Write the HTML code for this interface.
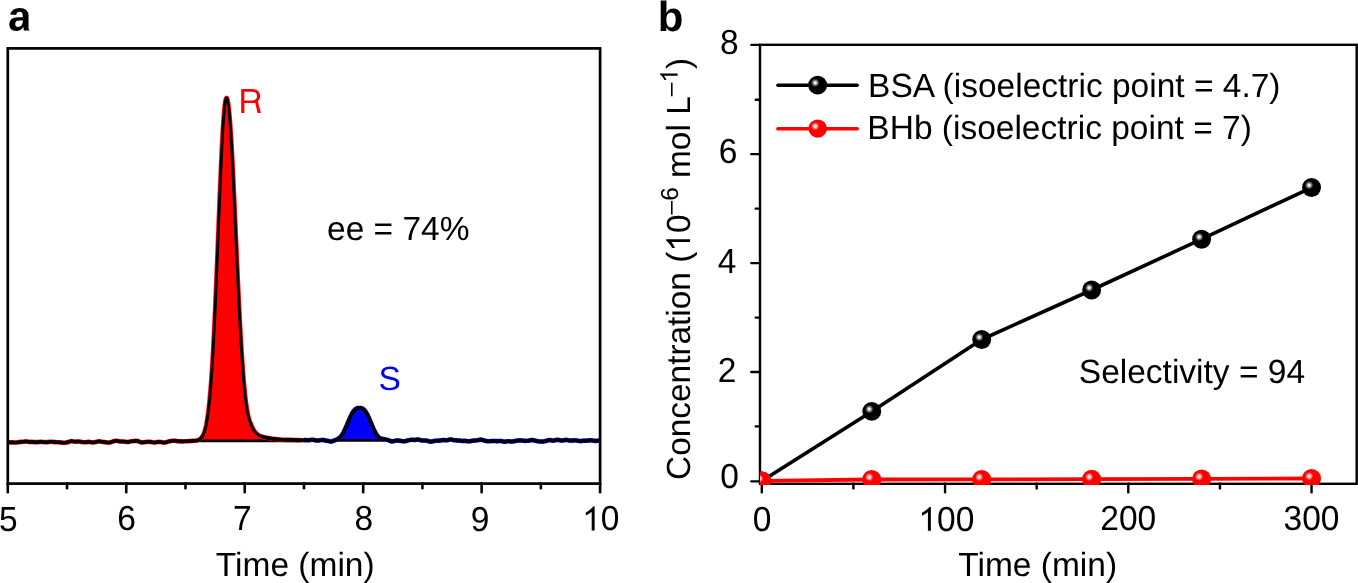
<!DOCTYPE html>
<html><head><meta charset="utf-8"><style>
html,body{margin:0;padding:0;background:#fff;width:1358px;height:583px;overflow:hidden;}
svg{display:block;will-change:transform;}
text{text-rendering:geometricPrecision;}
text{font-family:"Liberation Sans",sans-serif;}
</style></head><body>
<svg width="1358" height="583" viewBox="0 0 1358 583"><path d="M198.80,439.78 L199.30,439.51 L199.80,439.21 L200.30,438.84 L200.80,438.43 L201.30,437.94 L201.80,437.35 L202.30,436.64 L202.80,435.78 L203.30,434.79 L203.80,433.63 L204.30,432.29 L204.80,430.74 L205.30,428.96 L205.80,426.93 L206.30,424.61 L206.80,421.98 L207.30,419.02 L207.80,415.68 L208.30,411.95 L208.80,407.79 L209.30,403.18 L209.80,398.09 L210.30,392.49 L210.80,386.37 L211.30,379.70 L211.80,372.47 L212.30,364.68 L212.80,356.32 L213.30,347.39 L213.80,337.91 L214.30,327.88 L214.80,317.34 L215.30,306.33 L215.80,294.87 L216.30,283.04 L216.80,270.88 L217.30,258.46 L217.80,245.87 L218.30,233.19 L218.80,220.50 L219.30,207.91 L219.80,195.52 L220.30,183.42 L220.80,171.74 L221.30,160.58 L221.80,150.04 L222.30,140.23 L222.80,131.24 L223.30,123.17 L223.80,116.11 L224.30,110.12 L224.80,105.27 L225.30,101.62 L225.80,99.21 L226.30,98.06 L226.80,98.14 L227.30,99.26 L227.80,101.37 L228.30,104.47 L228.80,108.53 L229.30,113.51 L229.80,119.37 L230.30,126.06 L230.80,133.52 L231.30,141.69 L231.80,150.50 L232.30,159.89 L232.80,169.78 L233.30,180.09 L233.80,190.75 L234.30,201.69 L234.80,212.82 L235.30,224.08 L235.80,235.39 L236.30,246.68 L236.80,257.90 L237.30,268.98 L237.80,279.86 L238.30,290.50 L238.80,300.84 L239.30,310.86 L239.80,320.51 L240.30,329.77 L240.80,338.60 L241.30,347.00 L241.80,354.95 L242.30,362.42 L242.80,369.43 L243.30,375.96 L243.80,382.01 L244.30,387.58 L244.80,392.67 L245.30,397.29 L245.80,401.45 L246.30,405.15 L246.80,408.42 L247.30,411.28 L247.80,413.78 L248.30,415.96 L248.80,417.88 L249.30,419.59 L249.80,421.15 L250.30,422.58 L250.80,423.90 L251.30,425.15 L251.80,426.30 L252.30,427.38 L252.80,428.38 L253.30,429.30 L253.80,430.13 L254.30,430.90 L254.80,431.59 L255.30,432.21 L255.80,432.78 L256.30,433.28 L256.80,433.74 L257.30,434.15 L257.80,434.52 L258.30,434.86 L258.80,435.16 L259.30,435.44 L259.80,435.69 L260.30,435.92 L260.80,436.13 L261.30,436.33 L261.80,436.51 L262.30,436.67 L262.80,436.83 L263.30,436.98 L263.80,437.12 L264.30,437.25 L264.80,437.37 L265.30,437.49 L265.50,440.90 L198.60,440.90 Z" fill="#ff0000" stroke="none"/>
<path d="M333.80,440.30 L334.30,440.30 L334.80,440.27 L335.30,440.10 L335.80,439.88 L336.30,439.64 L336.80,439.45 L337.30,439.22 L337.80,438.91 L338.30,438.61 L338.80,438.27 L339.30,437.90 L339.80,437.46 L340.30,437.01 L340.80,436.52 L341.30,435.90 L341.80,435.22 L342.30,434.48 L342.80,433.68 L343.30,432.81 L343.80,431.88 L344.30,430.90 L344.80,429.87 L345.30,428.79 L345.80,427.67 L346.30,426.51 L346.80,425.33 L347.30,424.13 L347.80,422.92 L348.30,421.72 L348.80,420.52 L349.30,419.34 L349.80,418.19 L350.30,417.07 L350.80,416.00 L351.30,414.99 L351.80,414.03 L352.30,413.14 L352.80,412.31 L353.30,411.56 L353.80,410.89 L354.30,410.29 L354.80,409.77 L355.30,409.33 L355.80,408.96 L356.30,408.66 L356.80,408.43 L357.30,408.25 L357.80,408.14 L358.30,408.06 L358.80,408.03 L359.30,408.02 L359.80,408.02 L360.30,408.05 L360.80,408.10 L361.30,408.20 L361.80,408.35 L362.30,408.56 L362.80,408.83 L363.30,409.17 L363.80,409.58 L364.30,410.07 L364.80,410.63 L365.30,411.28 L365.80,412.00 L366.30,412.79 L366.80,413.65 L367.30,414.58 L367.80,415.58 L368.30,416.63 L368.80,417.72 L369.30,418.86 L369.80,420.03 L370.30,421.22 L370.80,422.43 L371.30,423.63 L371.80,424.84 L372.30,426.03 L372.80,427.19 L373.30,428.33 L373.80,429.43 L374.30,430.48 L374.80,431.48 L375.30,432.43 L375.80,433.32 L376.30,434.15 L376.80,434.91 L377.30,435.62 L377.80,436.26 L378.30,436.77 L378.80,437.20 L379.30,437.62 L379.80,437.93 L380.30,438.22 L380.80,438.47 L381.30,438.65 L381.80,438.81 L382.30,438.84 L382.80,438.95 L383.30,439.04 L383.80,439.13 L384.30,439.20 L384.40,440.30 L333.50,440.30 Z" fill="#0000ff" stroke="none"/>
<line x1="198.6" y1="440.9" x2="300" y2="440.9" stroke="#000" stroke-width="2.7"/>
<line x1="333.5" y1="440.3" x2="384.4" y2="440.3" stroke="#000" stroke-width="2.7"/>
<path d="M7.80,442.31 L8.30,442.28 L8.80,442.33 L9.30,442.36 L9.80,442.36 L10.30,442.39 L10.80,442.40 L11.30,442.35 L11.80,442.30 L12.30,442.30 L12.80,442.37 L13.30,442.40 L13.80,442.43 L14.30,442.48 L14.80,442.49 L15.30,442.55 L15.80,442.54 L16.30,442.56 L16.80,442.44 L17.30,442.40 L17.80,442.31 L18.30,442.17 L18.80,442.14 L19.30,442.08 L19.80,441.96 L20.30,441.91 L20.80,441.90 L21.30,441.86 L21.80,441.86 L22.30,441.84 L22.80,441.79 L23.30,441.72 L23.80,441.68 L24.30,441.61 L24.80,441.54 L25.30,441.40 L25.80,441.41 L26.30,441.48 L26.80,441.52 L27.30,441.58 L27.80,441.74 L28.30,441.74 L28.80,441.81 L29.30,441.93 L29.80,441.89 L30.30,441.89 L30.80,441.93 L31.30,441.90 L31.80,441.90 L32.30,441.93 L32.80,441.92 L33.30,441.95 L33.80,442.01 L34.30,442.10 L34.80,442.15 L35.30,442.17 L35.80,442.15 L36.30,442.14 L36.80,442.16 L37.30,442.13 L37.80,442.04 L38.30,441.95 L38.80,442.00 L39.30,441.98 L39.80,441.95 L40.30,441.81 L40.80,441.81 L41.30,441.82 L41.80,441.90 L42.30,441.95 L42.80,441.99 L43.30,442.06 L43.80,442.03 L44.30,442.12 L44.80,442.17 L45.30,442.17 L45.80,442.23 L46.30,442.29 L46.80,442.21 L47.30,442.14 L47.80,442.10 L48.30,442.04 L48.80,441.95 L49.30,441.84 L49.80,441.86 L50.30,441.85 L50.80,441.76 L51.30,441.68 L51.80,441.75 L52.30,441.81 L52.80,441.91 L53.30,442.00 L53.80,442.02 L54.30,442.09 L54.80,442.06 L55.30,442.09 L55.80,442.14 L56.30,442.20 L56.80,442.21 L57.30,442.23 L57.80,442.26 L58.30,442.29 L58.80,442.32 L59.30,442.34 L59.80,442.33 L60.30,442.38 L60.80,442.40 L61.30,442.42 L61.80,442.46 L62.30,442.55 L62.80,442.64 L63.30,442.74 L63.80,442.80 L64.30,442.83 L64.80,442.79 L65.30,442.66 L65.80,442.58 L66.30,442.50 L66.80,442.40 L67.30,442.29 L67.80,442.20 L68.30,442.04 L68.80,441.83 L69.30,441.68 L69.80,441.48 L70.30,441.37 L70.80,441.22 L71.30,441.08 L71.80,441.07 L72.30,441.23 L72.80,441.35 L73.30,441.43 L73.80,441.52 L74.30,441.62 L74.80,441.67 L75.30,441.67 L75.80,441.69 L76.30,441.66 L76.80,441.58 L77.30,441.54 L77.80,441.55 L78.30,441.56 L78.80,441.59 L79.30,441.57 L79.80,441.62 L80.30,441.71 L80.80,441.78 L81.30,441.90 L81.80,441.99 L82.30,442.08 L82.80,442.12 L83.30,442.25 L83.80,442.31 L84.30,442.29 L84.80,442.27 L85.30,442.33 L85.80,442.24 L86.30,442.19 L86.80,442.12 L87.30,442.02 L87.80,441.89 L88.30,441.85 L88.80,441.87 L89.30,441.96 L89.80,442.06 L90.30,442.14 L90.80,442.25 L91.30,442.33 L91.80,442.37 L92.30,442.39 L92.80,442.38 L93.30,442.39 L93.80,442.33 L94.30,442.27 L94.80,442.22 L95.30,442.10 L95.80,442.00 L96.30,441.82 L96.80,441.69 L97.30,441.60 L97.80,441.52 L98.30,441.43 L98.80,441.36 L99.30,441.29 L99.80,441.40 L100.30,441.48 L100.80,441.61 L101.30,441.68 L101.80,441.77 L102.30,441.79 L102.80,441.90 L103.30,442.01 L103.80,442.00 L104.30,442.06 L104.80,442.17 L105.30,442.19 L105.80,442.23 L106.30,442.31 L106.80,442.41 L107.30,442.47 L107.80,442.55 L108.30,442.59 L108.80,442.59 L109.30,442.54 L109.80,442.49 L110.30,442.39 L110.80,442.19 L111.30,442.01 L111.80,441.82 L112.30,441.64 L112.80,441.50 L113.30,441.36 L113.80,441.24 L114.30,441.05 L114.80,440.90 L115.30,440.82 L115.80,440.77 L116.30,440.77 L116.80,440.81 L117.30,440.87 L117.80,441.01 L118.30,441.15 L118.80,441.27 L119.30,441.36 L119.80,441.45 L120.30,441.42 L120.80,441.44 L121.30,441.49 L121.80,441.47 L122.30,441.51 L122.80,441.55 L123.30,441.53 L123.80,441.57 L124.30,441.62 L124.80,441.71 L125.30,441.82 L125.80,441.89 L126.30,441.92 L126.80,441.95 L127.30,441.95 L127.80,441.96 L128.30,441.92 L128.80,441.83 L129.30,441.69 L129.80,441.60 L130.30,441.50 L130.80,441.39 L131.30,441.32 L131.80,441.23 L132.30,441.17 L132.80,441.12 L133.30,441.02 L133.80,441.04 L134.30,440.95 L134.80,440.92 L135.30,440.88 L135.80,440.91 L136.30,440.82 L136.80,440.84 L137.30,440.94 L137.80,441.07 L138.30,441.30 L138.80,441.47 L139.30,441.68 L139.80,441.87 L140.30,442.06 L140.80,442.21 L141.30,442.30 L141.80,442.39 L142.30,442.38 L142.80,442.42 L143.30,442.34 L143.80,442.28 L144.30,442.27 L144.80,442.16 L145.30,442.06 L145.80,442.02 L146.30,441.94 L146.80,441.84 L147.30,441.79 L147.80,441.78 L148.30,441.78 L148.80,441.73 L149.30,441.79 L149.80,441.87 L150.30,441.89 L150.80,441.94 L151.30,441.98 L151.80,442.12 L152.30,442.19 L152.80,442.32 L153.30,442.39 L153.80,442.43 L154.30,442.48 L154.80,442.52 L155.30,442.45 L155.80,442.32 L156.30,442.23 L156.80,442.10 L157.30,442.00 L157.80,441.96 L158.30,441.93 L158.80,441.86 L159.30,441.93 L159.80,441.93 L160.30,441.99 L160.80,442.01 L161.30,442.09 L161.80,442.12 L162.30,442.31 L162.80,442.49 L163.30,442.54 L163.80,442.56 L164.30,442.53 L164.80,442.56 L165.30,442.48 L165.80,442.37 L166.30,442.22 L166.80,442.06 L167.30,441.87 L167.80,441.73 L168.30,441.55 L168.80,441.43 L169.30,441.34 L169.80,441.25 L170.30,441.14 L170.80,441.00 L171.30,440.91 L171.80,440.80 L172.30,440.78 L172.80,440.74 L173.30,440.70 L173.80,440.68 L174.30,440.68 L174.80,440.70 L175.30,440.76 L175.80,440.85 L176.30,440.95 L176.80,441.04 L177.30,441.16 L177.80,441.20 L178.30,441.24 L178.80,441.34 L179.30,441.32 L179.80,441.33 L180.30,441.35 L180.80,441.37 L181.30,441.39 L181.80,441.40 L182.30,441.41 L182.80,441.41 L183.30,441.41 L183.80,441.37 L184.30,441.34 L184.80,441.32 L185.30,441.29 L185.80,441.27 L186.30,441.25 L186.80,441.22 L187.30,441.20 L187.80,441.18 L188.30,441.16 L188.80,441.13 L189.30,441.10 L189.80,441.05 L190.30,441.01 L190.80,440.98 L191.30,440.93 L191.80,440.90 L192.30,440.87 L192.80,440.83 L193.30,440.82 L193.80,440.81 L194.30,440.78 L194.80,440.75 L195.30,440.71 L195.80,440.67 L196.30,440.61 L196.80,440.52 L197.30,440.38 L197.80,440.22 L198.30,440.02 L198.80,439.78 L199.30,439.51 L199.80,439.21 L200.30,438.84 L200.80,438.43 L201.30,437.94 L201.80,437.35 L202.30,436.64 L202.80,435.78 L203.30,434.79 L203.80,433.63 L204.30,432.29 L204.80,430.74 L205.30,428.96 L205.80,426.93 L206.30,424.61 L206.80,421.98 L207.30,419.02 L207.80,415.68 L208.30,411.95 L208.80,407.79 L209.30,403.18 L209.80,398.09 L210.30,392.49 L210.80,386.37 L211.30,379.70 L211.80,372.47 L212.30,364.68 L212.80,356.32 L213.30,347.39 L213.80,337.91 L214.30,327.88 L214.80,317.34 L215.30,306.33 L215.80,294.87 L216.30,283.04 L216.80,270.88 L217.30,258.46 L217.80,245.87 L218.30,233.19 L218.80,220.50 L219.30,207.91 L219.80,195.52 L220.30,183.42 L220.80,171.74 L221.30,160.58 L221.80,150.04 L222.30,140.23 L222.80,131.24 L223.30,123.17 L223.80,116.11 L224.30,110.12 L224.80,105.27 L225.30,101.62 L225.80,99.21 L226.30,98.06 L226.80,98.14 L227.30,99.26 L227.80,101.37 L228.30,104.47 L228.80,108.53 L229.30,113.51 L229.80,119.37 L230.30,126.06 L230.80,133.52 L231.30,141.69 L231.80,150.50 L232.30,159.89 L232.80,169.78 L233.30,180.09 L233.80,190.75 L234.30,201.69 L234.80,212.82 L235.30,224.08 L235.80,235.39 L236.30,246.68 L236.80,257.90 L237.30,268.98 L237.80,279.86 L238.30,290.50 L238.80,300.84 L239.30,310.86 L239.80,320.51 L240.30,329.77 L240.80,338.60 L241.30,347.00 L241.80,354.95 L242.30,362.42 L242.80,369.43 L243.30,375.96 L243.80,382.01 L244.30,387.58 L244.80,392.67 L245.30,397.29 L245.80,401.45 L246.30,405.15 L246.80,408.42 L247.30,411.28 L247.80,413.78 L248.30,415.96 L248.80,417.88 L249.30,419.59 L249.80,421.15 L250.30,422.58 L250.80,423.90 L251.30,425.15 L251.80,426.30 L252.30,427.38 L252.80,428.38 L253.30,429.30 L253.80,430.13 L254.30,430.90 L254.80,431.59 L255.30,432.21 L255.80,432.78 L256.30,433.28 L256.80,433.74 L257.30,434.15 L257.80,434.52 L258.30,434.86 L258.80,435.16 L259.30,435.44 L259.80,435.69 L260.30,435.92 L260.80,436.13 L261.30,436.33 L261.80,436.51 L262.30,436.67 L262.80,436.83 L263.30,436.98 L263.80,437.12 L264.30,437.25 L264.80,437.37 L265.30,437.49 L265.80,437.60 L266.30,437.71 L266.80,437.82 L267.30,437.92 L267.80,438.02 L268.30,438.11 L268.80,438.20 L269.30,438.29 L269.80,438.37 L270.30,438.45 L270.80,438.53 L271.30,438.59 L271.80,438.66 L272.30,438.72 L272.80,438.77 L273.30,438.83 L273.80,438.89 L274.30,438.94 L274.80,439.00 L275.30,439.04 L275.80,439.10 L276.30,439.15 L276.80,439.20 L277.30,439.25 L277.80,439.30 L278.30,439.36 L278.80,439.42 L279.30,439.48 L279.80,439.54 L280.30,439.61 L280.80,439.66 L281.30,439.71 L281.80,439.75 L282.30,439.79 L282.80,439.80 L283.30,439.84 L283.80,439.87 L284.30,439.86 L284.80,439.87 L285.30,439.88 L285.80,439.89 L286.30,439.90 L286.80,439.90 L287.30,439.89 L287.80,439.89 L288.30,439.89 L288.80,439.87 L289.30,439.86 L289.80,439.86 L290.30,439.85 L290.80,439.87 L291.30,439.89 L291.80,439.92 L292.30,439.95 L292.80,439.98 L293.30,440.01 L293.80,440.04 L294.30,440.05 L294.80,440.06 L295.30,440.07 L295.80,440.08 L296.30,440.09 L296.80,440.09 L297.30,440.10 L297.80,440.09 L298.30,440.14 L298.80,440.16 L299.30,440.19 L299.80,440.22 L300.30,440.22 L300.80,440.24 L301.30,440.25 L301.80,440.23 L302.30,440.22 L302.80,440.22 L303.30,440.17" fill="none" stroke="#ff0000" stroke-width="4.6" stroke-linejoin="round"/>
<path d="M303.80,440.14 L304.30,440.11 L304.80,440.08 L305.30,440.07 L305.80,440.10 L306.30,440.11 L306.80,440.17 L307.30,440.19 L307.80,440.23 L308.30,440.21 L308.80,440.18 L309.30,440.17 L309.80,440.10 L310.30,440.00 L310.80,439.86 L311.30,439.75 L311.80,439.69 L312.30,439.70 L312.80,439.74 L313.30,439.82 L313.80,439.92 L314.30,440.08 L314.80,440.19 L315.30,440.27 L315.80,440.39 L316.30,440.46 L316.80,440.49 L317.30,440.49 L317.80,440.49 L318.30,440.50 L318.80,440.48 L319.30,440.39 L319.80,440.33 L320.30,440.25 L320.80,440.11 L321.30,440.05 L321.80,439.97 L322.30,439.92 L322.80,439.97 L323.30,440.08 L323.80,440.14 L324.30,440.25 L324.80,440.32 L325.30,440.49 L325.80,440.54 L326.30,440.64 L326.80,440.67 L327.30,440.76 L327.80,440.93 L328.30,440.94 L328.80,441.07 L329.30,441.25 L329.80,441.39 L330.30,441.48 L330.80,441.60 L331.30,441.56 L331.80,441.37 L332.30,441.22 L332.80,440.95 L333.30,440.78 L333.80,440.56 L334.30,440.39 L334.80,440.27 L335.30,440.10 L335.80,439.88 L336.30,439.64 L336.80,439.45 L337.30,439.22 L337.80,438.91 L338.30,438.61 L338.80,438.27 L339.30,437.90 L339.80,437.46 L340.30,437.01 L340.80,436.52 L341.30,435.90 L341.80,435.22 L342.30,434.48 L342.80,433.68 L343.30,432.81 L343.80,431.88 L344.30,430.90 L344.80,429.87 L345.30,428.79 L345.80,427.67 L346.30,426.51 L346.80,425.33 L347.30,424.13 L347.80,422.92 L348.30,421.72 L348.80,420.52 L349.30,419.34 L349.80,418.19 L350.30,417.07 L350.80,416.00 L351.30,414.99 L351.80,414.03 L352.30,413.14 L352.80,412.31 L353.30,411.56 L353.80,410.89 L354.30,410.29 L354.80,409.77 L355.30,409.33 L355.80,408.96 L356.30,408.66 L356.80,408.43 L357.30,408.25 L357.80,408.14 L358.30,408.06 L358.80,408.03 L359.30,408.02 L359.80,408.02 L360.30,408.05 L360.80,408.10 L361.30,408.20 L361.80,408.35 L362.30,408.56 L362.80,408.83 L363.30,409.17 L363.80,409.58 L364.30,410.07 L364.80,410.63 L365.30,411.28 L365.80,412.00 L366.30,412.79 L366.80,413.65 L367.30,414.58 L367.80,415.58 L368.30,416.63 L368.80,417.72 L369.30,418.86 L369.80,420.03 L370.30,421.22 L370.80,422.43 L371.30,423.63 L371.80,424.84 L372.30,426.03 L372.80,427.19 L373.30,428.33 L373.80,429.43 L374.30,430.48 L374.80,431.48 L375.30,432.43 L375.80,433.32 L376.30,434.15 L376.80,434.91 L377.30,435.62 L377.80,436.26 L378.30,436.77 L378.80,437.20 L379.30,437.62 L379.80,437.93 L380.30,438.22 L380.80,438.47 L381.30,438.65 L381.80,438.81 L382.30,438.84 L382.80,438.95 L383.30,439.04 L383.80,439.13 L384.30,439.20 L384.80,439.34 L385.30,439.44 L385.80,439.59 L386.30,439.71 L386.80,439.76 L387.30,439.90 L387.80,440.05 L388.30,440.22 L388.80,440.34 L389.30,440.51 L389.80,440.72 L390.30,440.91 L390.80,441.13 L391.30,441.35 L391.80,441.39 L392.30,441.33 L392.80,441.30 L393.30,441.25 L393.80,441.14 L394.30,441.01 L394.80,440.84 L395.30,440.69 L395.80,440.64 L396.30,440.55 L396.80,440.45 L397.30,440.40 L397.80,440.51 L398.30,440.60 L398.80,440.61 L399.30,440.63 L399.80,440.70 L400.30,440.74 L400.80,440.88 L401.30,440.97 L401.80,441.03 L402.30,441.17 L402.80,441.23 L403.30,441.30 L403.80,441.33 L404.30,441.31 L404.80,441.29 L405.30,441.20 L405.80,441.04 L406.30,440.85 L406.80,440.69 L407.30,440.54 L407.80,440.43 L408.30,440.32 L408.80,440.24 L409.30,440.14 L409.80,440.02 L410.30,439.92 L410.80,439.79 L411.30,439.75 L411.80,439.77 L412.30,439.80 L412.80,439.82 L413.30,439.85 L413.80,439.90 L414.30,439.91 L414.80,439.91 L415.30,439.87 L415.80,439.79 L416.30,439.75 L416.80,439.63 L417.30,439.56 L417.80,439.50 L418.30,439.50 L418.80,439.64 L419.30,439.83 L419.80,439.95 L420.30,440.10 L420.80,440.26 L421.30,440.37 L421.80,440.48 L422.30,440.47 L422.80,440.47 L423.30,440.50 L423.80,440.57 L424.30,440.58 L424.80,440.56 L425.30,440.56 L425.80,440.57 L426.30,440.59 L426.80,440.72 L427.30,440.80 L427.80,440.92 L428.30,441.14 L428.80,441.32 L429.30,441.46 L429.80,441.52 L430.30,441.58 L430.80,441.64 L431.30,441.60 L431.80,441.55 L432.30,441.41 L432.80,441.29 L433.30,441.13 L433.80,441.02 L434.30,440.96 L434.80,440.82 L435.30,440.76 L435.80,440.73 L436.30,440.67 L436.80,440.64 L437.30,440.65 L437.80,440.71 L438.30,440.71 L438.80,440.69 L439.30,440.59 L439.80,440.61 L440.30,440.54 L440.80,440.46 L441.30,440.32 L441.80,440.24 L442.30,440.12 L442.80,440.08 L443.30,440.08 L443.80,440.10 L444.30,440.15 L444.80,440.17 L445.30,440.29 L445.80,440.32 L446.30,440.28 L446.80,440.28 L447.30,440.21 L447.80,440.09 L448.30,439.95 L448.80,439.82 L449.30,439.63 L449.80,439.51 L450.30,439.50 L450.80,439.52 L451.30,439.57 L451.80,439.69 L452.30,439.83 L452.80,439.98 L453.30,440.15 L453.80,440.25 L454.30,440.24 L454.80,440.30 L455.30,440.30 L455.80,440.35 L456.30,440.34 L456.80,440.37 L457.30,440.48 L457.80,440.47 L458.30,440.48 L458.80,440.50 L459.30,440.50 L459.80,440.54 L460.30,440.68 L460.80,440.79 L461.30,440.83 L461.80,440.87 L462.30,440.95 L462.80,440.94 L463.30,440.91 L463.80,440.88 L464.30,440.88 L464.80,440.90 L465.30,440.91 L465.80,440.91 L466.30,440.94 L466.80,441.06 L467.30,441.18 L467.80,441.24 L468.30,441.31 L468.80,441.35 L469.30,441.35 L469.80,441.29 L470.30,441.17 L470.80,441.06 L471.30,440.90 L471.80,440.84 L472.30,440.77 L472.80,440.63 L473.30,440.61 L473.80,440.59 L474.30,440.46 L474.80,440.50 L475.30,440.49 L475.80,440.52 L476.30,440.40 L476.80,440.35 L477.30,440.26 L477.80,440.16 L478.30,440.04 L478.80,439.97 L479.30,439.81 L479.80,439.69 L480.30,439.62 L480.80,439.62 L481.30,439.67 L481.80,439.80 L482.30,439.94 L482.80,440.08 L483.30,440.20 L483.80,440.32 L484.30,440.49 L484.80,440.64 L485.30,440.75 L485.80,440.84 L486.30,441.00 L486.80,441.06 L487.30,441.16 L487.80,441.26 L488.30,441.28 L488.80,441.32 L489.30,441.25 L489.80,441.26 L490.30,441.22 L490.80,441.09 L491.30,441.06 L491.80,440.97 L492.30,440.98 L492.80,440.93 L493.30,440.92 L493.80,440.94 L494.30,440.95 L494.80,441.00 L495.30,441.02 L495.80,441.09 L496.30,441.13 L496.80,441.16 L497.30,441.07 L497.80,441.11 L498.30,441.10 L498.80,441.00 L499.30,440.97 L499.80,440.96 L500.30,440.99 L500.80,440.95 L501.30,441.05 L501.80,441.12 L502.30,441.32 L502.80,441.43 L503.30,441.58 L503.80,441.65 L504.30,441.64 L504.80,441.66 L505.30,441.62 L505.80,441.57 L506.30,441.49 L506.80,441.37 L507.30,441.25 L507.80,441.21 L508.30,441.21 L508.80,441.24 L509.30,441.33 L509.80,441.42 L510.30,441.47 L510.80,441.53 L511.30,441.54 L511.80,441.54 L512.30,441.53 L512.80,441.51 L513.30,441.39 L513.80,441.24 L514.30,441.20 L514.80,441.10 L515.30,441.05 L515.80,440.88 L516.30,440.78 L516.80,440.70 L517.30,440.56 L517.80,440.46 L518.30,440.43 L518.80,440.43 L519.30,440.46 L519.80,440.41 L520.30,440.36 L520.80,440.41 L521.30,440.49 L521.80,440.55 L522.30,440.56 L522.80,440.64 L523.30,440.72 L523.80,440.78 L524.30,440.79 L524.80,440.83 L525.30,440.87 L525.80,440.85 L526.30,440.77 L526.80,440.77 L527.30,440.76 L527.80,440.72 L528.30,440.69 L528.80,440.59 L529.30,440.49 L529.80,440.37 L530.30,440.27 L530.80,440.22 L531.30,440.10 L531.80,440.10 L532.30,440.12 L532.80,440.14 L533.30,440.20 L533.80,440.34 L534.30,440.43 L534.80,440.54 L535.30,440.63 L535.80,440.77 L536.30,440.95 L536.80,441.08 L537.30,441.19 L537.80,441.27 L538.30,441.36 L538.80,441.38 L539.30,441.49 L539.80,441.53 L540.30,441.54 L540.80,441.55 L541.30,441.54 L541.80,441.57 L542.30,441.60 L542.80,441.51 L543.30,441.50 L543.80,441.47 L544.30,441.37 L544.80,441.23 L545.30,441.11 L545.80,440.98 L546.30,440.88 L546.80,440.73 L547.30,440.52 L547.80,440.40 L548.30,440.22 L548.80,440.18 L549.30,440.09 L549.80,440.08 L550.30,440.11 L550.80,440.18 L551.30,440.34 L551.80,440.48 L552.30,440.59 L552.80,440.65 L553.30,440.59 L553.80,440.54 L554.30,440.44 L554.80,440.30 L555.30,440.20 L555.80,440.05 L556.30,439.93 L556.80,439.83 L557.30,439.73 L557.80,439.80 L558.30,439.95 L558.80,440.08 L559.30,440.17 L559.80,440.20 L560.30,440.32 L560.80,440.45 L561.30,440.50 L561.80,440.53 L562.30,440.54 L562.80,440.50 L563.30,440.37 L563.80,440.29 L564.30,440.20 L564.80,440.03 L565.30,439.95 L565.80,439.88 L566.30,439.91 L566.80,440.01 L567.30,440.07 L567.80,440.11 L568.30,440.28 L568.80,440.40 L569.30,440.53 L569.80,440.51 L570.30,440.56 L570.80,440.62 L571.30,440.65 L571.80,440.57 L572.30,440.51 L572.80,440.42 L573.30,440.40 L573.80,440.38 L574.30,440.35 L574.80,440.29 L575.30,440.33 L575.80,440.35 L576.30,440.43 L576.80,440.51 L577.30,440.64 L577.80,440.76 L578.30,440.81 L578.80,440.88 L579.30,441.00 L579.80,441.01 L580.30,441.04 L580.80,441.08 L581.30,441.09 L581.80,441.05 L582.30,440.91 L582.80,440.76 L583.30,440.66 L583.80,440.60 L584.30,440.65 L584.80,440.60 L585.30,440.67 L585.80,440.73 L586.30,440.69 L586.80,440.67 L587.30,440.65 L587.80,440.59 L588.30,440.52 L588.80,440.47 L589.30,440.38 L589.80,440.35 L590.30,440.30 L590.80,440.29 L591.30,440.34 L591.80,440.36 L592.30,440.44 L592.80,440.58 L593.30,440.65 L593.80,440.71 L594.30,440.80 L594.80,440.83 L595.30,440.90 L595.80,440.86 L596.30,440.88 L596.80,440.84 L597.30,440.76 L597.80,440.77 L598.30,440.66 L598.80,440.64 L599.30,440.56 L599.80,440.52" fill="none" stroke="#0000ff" stroke-width="4.6" stroke-linejoin="round"/>
<path d="M7.80,442.31 L8.30,442.28 L8.80,442.33 L9.30,442.36 L9.80,442.36 L10.30,442.39 L10.80,442.40 L11.30,442.35 L11.80,442.30 L12.30,442.30 L12.80,442.37 L13.30,442.40 L13.80,442.43 L14.30,442.48 L14.80,442.49 L15.30,442.55 L15.80,442.54 L16.30,442.56 L16.80,442.44 L17.30,442.40 L17.80,442.31 L18.30,442.17 L18.80,442.14 L19.30,442.08 L19.80,441.96 L20.30,441.91 L20.80,441.90 L21.30,441.86 L21.80,441.86 L22.30,441.84 L22.80,441.79 L23.30,441.72 L23.80,441.68 L24.30,441.61 L24.80,441.54 L25.30,441.40 L25.80,441.41 L26.30,441.48 L26.80,441.52 L27.30,441.58 L27.80,441.74 L28.30,441.74 L28.80,441.81 L29.30,441.93 L29.80,441.89 L30.30,441.89 L30.80,441.93 L31.30,441.90 L31.80,441.90 L32.30,441.93 L32.80,441.92 L33.30,441.95 L33.80,442.01 L34.30,442.10 L34.80,442.15 L35.30,442.17 L35.80,442.15 L36.30,442.14 L36.80,442.16 L37.30,442.13 L37.80,442.04 L38.30,441.95 L38.80,442.00 L39.30,441.98 L39.80,441.95 L40.30,441.81 L40.80,441.81 L41.30,441.82 L41.80,441.90 L42.30,441.95 L42.80,441.99 L43.30,442.06 L43.80,442.03 L44.30,442.12 L44.80,442.17 L45.30,442.17 L45.80,442.23 L46.30,442.29 L46.80,442.21 L47.30,442.14 L47.80,442.10 L48.30,442.04 L48.80,441.95 L49.30,441.84 L49.80,441.86 L50.30,441.85 L50.80,441.76 L51.30,441.68 L51.80,441.75 L52.30,441.81 L52.80,441.91 L53.30,442.00 L53.80,442.02 L54.30,442.09 L54.80,442.06 L55.30,442.09 L55.80,442.14 L56.30,442.20 L56.80,442.21 L57.30,442.23 L57.80,442.26 L58.30,442.29 L58.80,442.32 L59.30,442.34 L59.80,442.33 L60.30,442.38 L60.80,442.40 L61.30,442.42 L61.80,442.46 L62.30,442.55 L62.80,442.64 L63.30,442.74 L63.80,442.80 L64.30,442.83 L64.80,442.79 L65.30,442.66 L65.80,442.58 L66.30,442.50 L66.80,442.40 L67.30,442.29 L67.80,442.20 L68.30,442.04 L68.80,441.83 L69.30,441.68 L69.80,441.48 L70.30,441.37 L70.80,441.22 L71.30,441.08 L71.80,441.07 L72.30,441.23 L72.80,441.35 L73.30,441.43 L73.80,441.52 L74.30,441.62 L74.80,441.67 L75.30,441.67 L75.80,441.69 L76.30,441.66 L76.80,441.58 L77.30,441.54 L77.80,441.55 L78.30,441.56 L78.80,441.59 L79.30,441.57 L79.80,441.62 L80.30,441.71 L80.80,441.78 L81.30,441.90 L81.80,441.99 L82.30,442.08 L82.80,442.12 L83.30,442.25 L83.80,442.31 L84.30,442.29 L84.80,442.27 L85.30,442.33 L85.80,442.24 L86.30,442.19 L86.80,442.12 L87.30,442.02 L87.80,441.89 L88.30,441.85 L88.80,441.87 L89.30,441.96 L89.80,442.06 L90.30,442.14 L90.80,442.25 L91.30,442.33 L91.80,442.37 L92.30,442.39 L92.80,442.38 L93.30,442.39 L93.80,442.33 L94.30,442.27 L94.80,442.22 L95.30,442.10 L95.80,442.00 L96.30,441.82 L96.80,441.69 L97.30,441.60 L97.80,441.52 L98.30,441.43 L98.80,441.36 L99.30,441.29 L99.80,441.40 L100.30,441.48 L100.80,441.61 L101.30,441.68 L101.80,441.77 L102.30,441.79 L102.80,441.90 L103.30,442.01 L103.80,442.00 L104.30,442.06 L104.80,442.17 L105.30,442.19 L105.80,442.23 L106.30,442.31 L106.80,442.41 L107.30,442.47 L107.80,442.55 L108.30,442.59 L108.80,442.59 L109.30,442.54 L109.80,442.49 L110.30,442.39 L110.80,442.19 L111.30,442.01 L111.80,441.82 L112.30,441.64 L112.80,441.50 L113.30,441.36 L113.80,441.24 L114.30,441.05 L114.80,440.90 L115.30,440.82 L115.80,440.77 L116.30,440.77 L116.80,440.81 L117.30,440.87 L117.80,441.01 L118.30,441.15 L118.80,441.27 L119.30,441.36 L119.80,441.45 L120.30,441.42 L120.80,441.44 L121.30,441.49 L121.80,441.47 L122.30,441.51 L122.80,441.55 L123.30,441.53 L123.80,441.57 L124.30,441.62 L124.80,441.71 L125.30,441.82 L125.80,441.89 L126.30,441.92 L126.80,441.95 L127.30,441.95 L127.80,441.96 L128.30,441.92 L128.80,441.83 L129.30,441.69 L129.80,441.60 L130.30,441.50 L130.80,441.39 L131.30,441.32 L131.80,441.23 L132.30,441.17 L132.80,441.12 L133.30,441.02 L133.80,441.04 L134.30,440.95 L134.80,440.92 L135.30,440.88 L135.80,440.91 L136.30,440.82 L136.80,440.84 L137.30,440.94 L137.80,441.07 L138.30,441.30 L138.80,441.47 L139.30,441.68 L139.80,441.87 L140.30,442.06 L140.80,442.21 L141.30,442.30 L141.80,442.39 L142.30,442.38 L142.80,442.42 L143.30,442.34 L143.80,442.28 L144.30,442.27 L144.80,442.16 L145.30,442.06 L145.80,442.02 L146.30,441.94 L146.80,441.84 L147.30,441.79 L147.80,441.78 L148.30,441.78 L148.80,441.73 L149.30,441.79 L149.80,441.87 L150.30,441.89 L150.80,441.94 L151.30,441.98 L151.80,442.12 L152.30,442.19 L152.80,442.32 L153.30,442.39 L153.80,442.43 L154.30,442.48 L154.80,442.52 L155.30,442.45 L155.80,442.32 L156.30,442.23 L156.80,442.10 L157.30,442.00 L157.80,441.96 L158.30,441.93 L158.80,441.86 L159.30,441.93 L159.80,441.93 L160.30,441.99 L160.80,442.01 L161.30,442.09 L161.80,442.12 L162.30,442.31 L162.80,442.49 L163.30,442.54 L163.80,442.56 L164.30,442.53 L164.80,442.56 L165.30,442.48 L165.80,442.37 L166.30,442.22 L166.80,442.06 L167.30,441.87 L167.80,441.73 L168.30,441.55 L168.80,441.43 L169.30,441.34 L169.80,441.25 L170.30,441.14 L170.80,441.00 L171.30,440.91 L171.80,440.80 L172.30,440.78 L172.80,440.74 L173.30,440.70 L173.80,440.68 L174.30,440.68 L174.80,440.70 L175.30,440.76 L175.80,440.85 L176.30,440.95 L176.80,441.04 L177.30,441.16 L177.80,441.20 L178.30,441.24 L178.80,441.34 L179.30,441.32 L179.80,441.33 L180.30,441.35 L180.80,441.37 L181.30,441.39 L181.80,441.40 L182.30,441.41 L182.80,441.41 L183.30,441.41 L183.80,441.37 L184.30,441.34 L184.80,441.32 L185.30,441.29 L185.80,441.27 L186.30,441.25 L186.80,441.22 L187.30,441.20 L187.80,441.18 L188.30,441.16 L188.80,441.13 L189.30,441.10 L189.80,441.05 L190.30,441.01 L190.80,440.98 L191.30,440.93 L191.80,440.90 L192.30,440.87 L192.80,440.83 L193.30,440.82 L193.80,440.81 L194.30,440.78 L194.80,440.75 L195.30,440.71 L195.80,440.67 L196.30,440.61 L196.80,440.52 L197.30,440.38 L197.80,440.22 L198.30,440.02 L198.80,439.78 L199.30,439.51 L199.80,439.21 L200.30,438.84 L200.80,438.43 L201.30,437.94 L201.80,437.35 L202.30,436.64 L202.80,435.78 L203.30,434.79 L203.80,433.63 L204.30,432.29 L204.80,430.74 L205.30,428.96 L205.80,426.93 L206.30,424.61 L206.80,421.98 L207.30,419.02 L207.80,415.68 L208.30,411.95 L208.80,407.79 L209.30,403.18 L209.80,398.09 L210.30,392.49 L210.80,386.37 L211.30,379.70 L211.80,372.47 L212.30,364.68 L212.80,356.32 L213.30,347.39 L213.80,337.91 L214.30,327.88 L214.80,317.34 L215.30,306.33 L215.80,294.87 L216.30,283.04 L216.80,270.88 L217.30,258.46 L217.80,245.87 L218.30,233.19 L218.80,220.50 L219.30,207.91 L219.80,195.52 L220.30,183.42 L220.80,171.74 L221.30,160.58 L221.80,150.04 L222.30,140.23 L222.80,131.24 L223.30,123.17 L223.80,116.11 L224.30,110.12 L224.80,105.27 L225.30,101.62 L225.80,99.21 L226.30,98.06 L226.80,98.14 L227.30,99.26 L227.80,101.37 L228.30,104.47 L228.80,108.53 L229.30,113.51 L229.80,119.37 L230.30,126.06 L230.80,133.52 L231.30,141.69 L231.80,150.50 L232.30,159.89 L232.80,169.78 L233.30,180.09 L233.80,190.75 L234.30,201.69 L234.80,212.82 L235.30,224.08 L235.80,235.39 L236.30,246.68 L236.80,257.90 L237.30,268.98 L237.80,279.86 L238.30,290.50 L238.80,300.84 L239.30,310.86 L239.80,320.51 L240.30,329.77 L240.80,338.60 L241.30,347.00 L241.80,354.95 L242.30,362.42 L242.80,369.43 L243.30,375.96 L243.80,382.01 L244.30,387.58 L244.80,392.67 L245.30,397.29 L245.80,401.45 L246.30,405.15 L246.80,408.42 L247.30,411.28 L247.80,413.78 L248.30,415.96 L248.80,417.88 L249.30,419.59 L249.80,421.15 L250.30,422.58 L250.80,423.90 L251.30,425.15 L251.80,426.30 L252.30,427.38 L252.80,428.38 L253.30,429.30 L253.80,430.13 L254.30,430.90 L254.80,431.59 L255.30,432.21 L255.80,432.78 L256.30,433.28 L256.80,433.74 L257.30,434.15 L257.80,434.52 L258.30,434.86 L258.80,435.16 L259.30,435.44 L259.80,435.69 L260.30,435.92 L260.80,436.13 L261.30,436.33 L261.80,436.51 L262.30,436.67 L262.80,436.83 L263.30,436.98 L263.80,437.12 L264.30,437.25 L264.80,437.37 L265.30,437.49 L265.80,437.60 L266.30,437.71 L266.80,437.82 L267.30,437.92 L267.80,438.02 L268.30,438.11 L268.80,438.20 L269.30,438.29 L269.80,438.37 L270.30,438.45 L270.80,438.53 L271.30,438.59 L271.80,438.66 L272.30,438.72 L272.80,438.77 L273.30,438.83 L273.80,438.89 L274.30,438.94 L274.80,439.00 L275.30,439.04 L275.80,439.10 L276.30,439.15 L276.80,439.20 L277.30,439.25 L277.80,439.30 L278.30,439.36 L278.80,439.42 L279.30,439.48 L279.80,439.54 L280.30,439.61 L280.80,439.66 L281.30,439.71 L281.80,439.75 L282.30,439.79 L282.80,439.80 L283.30,439.84 L283.80,439.87 L284.30,439.86 L284.80,439.87 L285.30,439.88 L285.80,439.89 L286.30,439.90 L286.80,439.90 L287.30,439.89 L287.80,439.89 L288.30,439.89 L288.80,439.87 L289.30,439.86 L289.80,439.86 L290.30,439.85 L290.80,439.87 L291.30,439.89 L291.80,439.92 L292.30,439.95 L292.80,439.98 L293.30,440.01 L293.80,440.04 L294.30,440.05 L294.80,440.06 L295.30,440.07 L295.80,440.08 L296.30,440.09 L296.80,440.09 L297.30,440.10 L297.80,440.09 L298.30,440.14 L298.80,440.16 L299.30,440.19 L299.80,440.22 L300.30,440.22 L300.80,440.24 L301.30,440.25 L301.80,440.23 L302.30,440.22 L302.80,440.22 L303.30,440.17 L303.80,440.14 L304.30,440.11 L304.80,440.08 L305.30,440.07 L305.80,440.10 L306.30,440.11 L306.80,440.17 L307.30,440.19 L307.80,440.23 L308.30,440.21 L308.80,440.18 L309.30,440.17 L309.80,440.10 L310.30,440.00 L310.80,439.86 L311.30,439.75 L311.80,439.69 L312.30,439.70 L312.80,439.74 L313.30,439.82 L313.80,439.92 L314.30,440.08 L314.80,440.19 L315.30,440.27 L315.80,440.39 L316.30,440.46 L316.80,440.49 L317.30,440.49 L317.80,440.49 L318.30,440.50 L318.80,440.48 L319.30,440.39 L319.80,440.33 L320.30,440.25 L320.80,440.11 L321.30,440.05 L321.80,439.97 L322.30,439.92 L322.80,439.97 L323.30,440.08 L323.80,440.14 L324.30,440.25 L324.80,440.32 L325.30,440.49 L325.80,440.54 L326.30,440.64 L326.80,440.67 L327.30,440.76 L327.80,440.93 L328.30,440.94 L328.80,441.07 L329.30,441.25 L329.80,441.39 L330.30,441.48 L330.80,441.60 L331.30,441.56 L331.80,441.37 L332.30,441.22 L332.80,440.95 L333.30,440.78 L333.80,440.56 L334.30,440.39 L334.80,440.27 L335.30,440.10 L335.80,439.88 L336.30,439.64 L336.80,439.45 L337.30,439.22 L337.80,438.91 L338.30,438.61 L338.80,438.27 L339.30,437.90 L339.80,437.46 L340.30,437.01 L340.80,436.52 L341.30,435.90 L341.80,435.22 L342.30,434.48 L342.80,433.68 L343.30,432.81 L343.80,431.88 L344.30,430.90 L344.80,429.87 L345.30,428.79 L345.80,427.67 L346.30,426.51 L346.80,425.33 L347.30,424.13 L347.80,422.92 L348.30,421.72 L348.80,420.52 L349.30,419.34 L349.80,418.19 L350.30,417.07 L350.80,416.00 L351.30,414.99 L351.80,414.03 L352.30,413.14 L352.80,412.31 L353.30,411.56 L353.80,410.89 L354.30,410.29 L354.80,409.77 L355.30,409.33 L355.80,408.96 L356.30,408.66 L356.80,408.43 L357.30,408.25 L357.80,408.14 L358.30,408.06 L358.80,408.03 L359.30,408.02 L359.80,408.02 L360.30,408.05 L360.80,408.10 L361.30,408.20 L361.80,408.35 L362.30,408.56 L362.80,408.83 L363.30,409.17 L363.80,409.58 L364.30,410.07 L364.80,410.63 L365.30,411.28 L365.80,412.00 L366.30,412.79 L366.80,413.65 L367.30,414.58 L367.80,415.58 L368.30,416.63 L368.80,417.72 L369.30,418.86 L369.80,420.03 L370.30,421.22 L370.80,422.43 L371.30,423.63 L371.80,424.84 L372.30,426.03 L372.80,427.19 L373.30,428.33 L373.80,429.43 L374.30,430.48 L374.80,431.48 L375.30,432.43 L375.80,433.32 L376.30,434.15 L376.80,434.91 L377.30,435.62 L377.80,436.26 L378.30,436.77 L378.80,437.20 L379.30,437.62 L379.80,437.93 L380.30,438.22 L380.80,438.47 L381.30,438.65 L381.80,438.81 L382.30,438.84 L382.80,438.95 L383.30,439.04 L383.80,439.13 L384.30,439.20 L384.80,439.34 L385.30,439.44 L385.80,439.59 L386.30,439.71 L386.80,439.76 L387.30,439.90 L387.80,440.05 L388.30,440.22 L388.80,440.34 L389.30,440.51 L389.80,440.72 L390.30,440.91 L390.80,441.13 L391.30,441.35 L391.80,441.39 L392.30,441.33 L392.80,441.30 L393.30,441.25 L393.80,441.14 L394.30,441.01 L394.80,440.84 L395.30,440.69 L395.80,440.64 L396.30,440.55 L396.80,440.45 L397.30,440.40 L397.80,440.51 L398.30,440.60 L398.80,440.61 L399.30,440.63 L399.80,440.70 L400.30,440.74 L400.80,440.88 L401.30,440.97 L401.80,441.03 L402.30,441.17 L402.80,441.23 L403.30,441.30 L403.80,441.33 L404.30,441.31 L404.80,441.29 L405.30,441.20 L405.80,441.04 L406.30,440.85 L406.80,440.69 L407.30,440.54 L407.80,440.43 L408.30,440.32 L408.80,440.24 L409.30,440.14 L409.80,440.02 L410.30,439.92 L410.80,439.79 L411.30,439.75 L411.80,439.77 L412.30,439.80 L412.80,439.82 L413.30,439.85 L413.80,439.90 L414.30,439.91 L414.80,439.91 L415.30,439.87 L415.80,439.79 L416.30,439.75 L416.80,439.63 L417.30,439.56 L417.80,439.50 L418.30,439.50 L418.80,439.64 L419.30,439.83 L419.80,439.95 L420.30,440.10 L420.80,440.26 L421.30,440.37 L421.80,440.48 L422.30,440.47 L422.80,440.47 L423.30,440.50 L423.80,440.57 L424.30,440.58 L424.80,440.56 L425.30,440.56 L425.80,440.57 L426.30,440.59 L426.80,440.72 L427.30,440.80 L427.80,440.92 L428.30,441.14 L428.80,441.32 L429.30,441.46 L429.80,441.52 L430.30,441.58 L430.80,441.64 L431.30,441.60 L431.80,441.55 L432.30,441.41 L432.80,441.29 L433.30,441.13 L433.80,441.02 L434.30,440.96 L434.80,440.82 L435.30,440.76 L435.80,440.73 L436.30,440.67 L436.80,440.64 L437.30,440.65 L437.80,440.71 L438.30,440.71 L438.80,440.69 L439.30,440.59 L439.80,440.61 L440.30,440.54 L440.80,440.46 L441.30,440.32 L441.80,440.24 L442.30,440.12 L442.80,440.08 L443.30,440.08 L443.80,440.10 L444.30,440.15 L444.80,440.17 L445.30,440.29 L445.80,440.32 L446.30,440.28 L446.80,440.28 L447.30,440.21 L447.80,440.09 L448.30,439.95 L448.80,439.82 L449.30,439.63 L449.80,439.51 L450.30,439.50 L450.80,439.52 L451.30,439.57 L451.80,439.69 L452.30,439.83 L452.80,439.98 L453.30,440.15 L453.80,440.25 L454.30,440.24 L454.80,440.30 L455.30,440.30 L455.80,440.35 L456.30,440.34 L456.80,440.37 L457.30,440.48 L457.80,440.47 L458.30,440.48 L458.80,440.50 L459.30,440.50 L459.80,440.54 L460.30,440.68 L460.80,440.79 L461.30,440.83 L461.80,440.87 L462.30,440.95 L462.80,440.94 L463.30,440.91 L463.80,440.88 L464.30,440.88 L464.80,440.90 L465.30,440.91 L465.80,440.91 L466.30,440.94 L466.80,441.06 L467.30,441.18 L467.80,441.24 L468.30,441.31 L468.80,441.35 L469.30,441.35 L469.80,441.29 L470.30,441.17 L470.80,441.06 L471.30,440.90 L471.80,440.84 L472.30,440.77 L472.80,440.63 L473.30,440.61 L473.80,440.59 L474.30,440.46 L474.80,440.50 L475.30,440.49 L475.80,440.52 L476.30,440.40 L476.80,440.35 L477.30,440.26 L477.80,440.16 L478.30,440.04 L478.80,439.97 L479.30,439.81 L479.80,439.69 L480.30,439.62 L480.80,439.62 L481.30,439.67 L481.80,439.80 L482.30,439.94 L482.80,440.08 L483.30,440.20 L483.80,440.32 L484.30,440.49 L484.80,440.64 L485.30,440.75 L485.80,440.84 L486.30,441.00 L486.80,441.06 L487.30,441.16 L487.80,441.26 L488.30,441.28 L488.80,441.32 L489.30,441.25 L489.80,441.26 L490.30,441.22 L490.80,441.09 L491.30,441.06 L491.80,440.97 L492.30,440.98 L492.80,440.93 L493.30,440.92 L493.80,440.94 L494.30,440.95 L494.80,441.00 L495.30,441.02 L495.80,441.09 L496.30,441.13 L496.80,441.16 L497.30,441.07 L497.80,441.11 L498.30,441.10 L498.80,441.00 L499.30,440.97 L499.80,440.96 L500.30,440.99 L500.80,440.95 L501.30,441.05 L501.80,441.12 L502.30,441.32 L502.80,441.43 L503.30,441.58 L503.80,441.65 L504.30,441.64 L504.80,441.66 L505.30,441.62 L505.80,441.57 L506.30,441.49 L506.80,441.37 L507.30,441.25 L507.80,441.21 L508.30,441.21 L508.80,441.24 L509.30,441.33 L509.80,441.42 L510.30,441.47 L510.80,441.53 L511.30,441.54 L511.80,441.54 L512.30,441.53 L512.80,441.51 L513.30,441.39 L513.80,441.24 L514.30,441.20 L514.80,441.10 L515.30,441.05 L515.80,440.88 L516.30,440.78 L516.80,440.70 L517.30,440.56 L517.80,440.46 L518.30,440.43 L518.80,440.43 L519.30,440.46 L519.80,440.41 L520.30,440.36 L520.80,440.41 L521.30,440.49 L521.80,440.55 L522.30,440.56 L522.80,440.64 L523.30,440.72 L523.80,440.78 L524.30,440.79 L524.80,440.83 L525.30,440.87 L525.80,440.85 L526.30,440.77 L526.80,440.77 L527.30,440.76 L527.80,440.72 L528.30,440.69 L528.80,440.59 L529.30,440.49 L529.80,440.37 L530.30,440.27 L530.80,440.22 L531.30,440.10 L531.80,440.10 L532.30,440.12 L532.80,440.14 L533.30,440.20 L533.80,440.34 L534.30,440.43 L534.80,440.54 L535.30,440.63 L535.80,440.77 L536.30,440.95 L536.80,441.08 L537.30,441.19 L537.80,441.27 L538.30,441.36 L538.80,441.38 L539.30,441.49 L539.80,441.53 L540.30,441.54 L540.80,441.55 L541.30,441.54 L541.80,441.57 L542.30,441.60 L542.80,441.51 L543.30,441.50 L543.80,441.47 L544.30,441.37 L544.80,441.23 L545.30,441.11 L545.80,440.98 L546.30,440.88 L546.80,440.73 L547.30,440.52 L547.80,440.40 L548.30,440.22 L548.80,440.18 L549.30,440.09 L549.80,440.08 L550.30,440.11 L550.80,440.18 L551.30,440.34 L551.80,440.48 L552.30,440.59 L552.80,440.65 L553.30,440.59 L553.80,440.54 L554.30,440.44 L554.80,440.30 L555.30,440.20 L555.80,440.05 L556.30,439.93 L556.80,439.83 L557.30,439.73 L557.80,439.80 L558.30,439.95 L558.80,440.08 L559.30,440.17 L559.80,440.20 L560.30,440.32 L560.80,440.45 L561.30,440.50 L561.80,440.53 L562.30,440.54 L562.80,440.50 L563.30,440.37 L563.80,440.29 L564.30,440.20 L564.80,440.03 L565.30,439.95 L565.80,439.88 L566.30,439.91 L566.80,440.01 L567.30,440.07 L567.80,440.11 L568.30,440.28 L568.80,440.40 L569.30,440.53 L569.80,440.51 L570.30,440.56 L570.80,440.62 L571.30,440.65 L571.80,440.57 L572.30,440.51 L572.80,440.42 L573.30,440.40 L573.80,440.38 L574.30,440.35 L574.80,440.29 L575.30,440.33 L575.80,440.35 L576.30,440.43 L576.80,440.51 L577.30,440.64 L577.80,440.76 L578.30,440.81 L578.80,440.88 L579.30,441.00 L579.80,441.01 L580.30,441.04 L580.80,441.08 L581.30,441.09 L581.80,441.05 L582.30,440.91 L582.80,440.76 L583.30,440.66 L583.80,440.60 L584.30,440.65 L584.80,440.60 L585.30,440.67 L585.80,440.73 L586.30,440.69 L586.80,440.67 L587.30,440.65 L587.80,440.59 L588.30,440.52 L588.80,440.47 L589.30,440.38 L589.80,440.35 L590.30,440.30 L590.80,440.29 L591.30,440.34 L591.80,440.36 L592.30,440.44 L592.80,440.58 L593.30,440.65 L593.80,440.71 L594.30,440.80 L594.80,440.83 L595.30,440.90 L595.80,440.86 L596.30,440.88 L596.80,440.84 L597.30,440.76 L597.80,440.77 L598.30,440.66 L598.80,440.64 L599.30,440.56 L599.80,440.52" fill="none" stroke="#000" stroke-width="2.8" stroke-linejoin="round"/>
<path d="M7.80,442.31 L8.30,442.28 L8.80,442.33 L9.30,442.36 L9.80,442.36 L10.30,442.39 L10.80,442.40 L11.30,442.35 L11.80,442.30 L12.30,442.30 L12.80,442.37 L13.30,442.40 L13.80,442.43 L14.30,442.48 L14.80,442.49 L15.30,442.55 L15.80,442.54 L16.30,442.56 L16.80,442.44 L17.30,442.40 L17.80,442.31 L18.30,442.17 L18.80,442.14 L19.30,442.08 L19.80,441.96 L20.30,441.91 L20.80,441.90 L21.30,441.86 L21.80,441.86 L22.30,441.84 L22.80,441.79 L23.30,441.72 L23.80,441.68 L24.30,441.61 L24.80,441.54 L25.30,441.40 L25.80,441.41 L26.30,441.48 L26.80,441.52 L27.30,441.58 L27.80,441.74 L28.30,441.74 L28.80,441.81 L29.30,441.93 L29.80,441.89 L30.30,441.89 L30.80,441.93 L31.30,441.90 L31.80,441.90 L32.30,441.93 L32.80,441.92 L33.30,441.95 L33.80,442.01 L34.30,442.10 L34.80,442.15 L35.30,442.17 L35.80,442.15 L36.30,442.14 L36.80,442.16 L37.30,442.13 L37.80,442.04 L38.30,441.95 L38.80,442.00 L39.30,441.98 L39.80,441.95 L40.30,441.81 L40.80,441.81 L41.30,441.82 L41.80,441.90 L42.30,441.95 L42.80,441.99 L43.30,442.06 L43.80,442.03 L44.30,442.12 L44.80,442.17 L45.30,442.17 L45.80,442.23 L46.30,442.29 L46.80,442.21 L47.30,442.14 L47.80,442.10 L48.30,442.04 L48.80,441.95 L49.30,441.84 L49.80,441.86 L50.30,441.85 L50.80,441.76 L51.30,441.68 L51.80,441.75 L52.30,441.81 L52.80,441.91 L53.30,442.00 L53.80,442.02 L54.30,442.09 L54.80,442.06 L55.30,442.09 L55.80,442.14 L56.30,442.20 L56.80,442.21 L57.30,442.23 L57.80,442.26 L58.30,442.29 L58.80,442.32 L59.30,442.34 L59.80,442.33 L60.30,442.38 L60.80,442.40 L61.30,442.42 L61.80,442.46 L62.30,442.55 L62.80,442.64 L63.30,442.74 L63.80,442.80 L64.30,442.83 L64.80,442.79 L65.30,442.66 L65.80,442.58 L66.30,442.50 L66.80,442.40 L67.30,442.29 L67.80,442.20 L68.30,442.04 L68.80,441.83 L69.30,441.68 L69.80,441.48 L70.30,441.37 L70.80,441.22 L71.30,441.08 L71.80,441.07 L72.30,441.23 L72.80,441.35 L73.30,441.43 L73.80,441.52 L74.30,441.62 L74.80,441.67 L75.30,441.67 L75.80,441.69 L76.30,441.66 L76.80,441.58 L77.30,441.54 L77.80,441.55 L78.30,441.56 L78.80,441.59 L79.30,441.57 L79.80,441.62 L80.30,441.71 L80.80,441.78 L81.30,441.90 L81.80,441.99 L82.30,442.08 L82.80,442.12 L83.30,442.25 L83.80,442.31 L84.30,442.29 L84.80,442.27 L85.30,442.33 L85.80,442.24 L86.30,442.19 L86.80,442.12 L87.30,442.02 L87.80,441.89 L88.30,441.85 L88.80,441.87 L89.30,441.96 L89.80,442.06 L90.30,442.14 L90.80,442.25 L91.30,442.33 L91.80,442.37 L92.30,442.39 L92.80,442.38 L93.30,442.39 L93.80,442.33 L94.30,442.27 L94.80,442.22 L95.30,442.10 L95.80,442.00 L96.30,441.82 L96.80,441.69 L97.30,441.60 L97.80,441.52 L98.30,441.43 L98.80,441.36 L99.30,441.29 L99.80,441.40 L100.30,441.48 L100.80,441.61 L101.30,441.68 L101.80,441.77 L102.30,441.79 L102.80,441.90 L103.30,442.01 L103.80,442.00 L104.30,442.06 L104.80,442.17 L105.30,442.19 L105.80,442.23 L106.30,442.31 L106.80,442.41 L107.30,442.47 L107.80,442.55 L108.30,442.59 L108.80,442.59 L109.30,442.54 L109.80,442.49 L110.30,442.39 L110.80,442.19 L111.30,442.01 L111.80,441.82 L112.30,441.64 L112.80,441.50 L113.30,441.36 L113.80,441.24 L114.30,441.05 L114.80,440.90 L115.30,440.82 L115.80,440.77 L116.30,440.77 L116.80,440.81 L117.30,440.87 L117.80,441.01 L118.30,441.15 L118.80,441.27 L119.30,441.36 L119.80,441.45 L120.30,441.42 L120.80,441.44 L121.30,441.49 L121.80,441.47 L122.30,441.51 L122.80,441.55 L123.30,441.53 L123.80,441.57 L124.30,441.62 L124.80,441.71 L125.30,441.82 L125.80,441.89 L126.30,441.92 L126.80,441.95 L127.30,441.95 L127.80,441.96 L128.30,441.92 L128.80,441.83 L129.30,441.69 L129.80,441.60 L130.30,441.50 L130.80,441.39 L131.30,441.32 L131.80,441.23 L132.30,441.17 L132.80,441.12 L133.30,441.02 L133.80,441.04 L134.30,440.95 L134.80,440.92 L135.30,440.88 L135.80,440.91 L136.30,440.82 L136.80,440.84 L137.30,440.94 L137.80,441.07 L138.30,441.30 L138.80,441.47 L139.30,441.68 L139.80,441.87 L140.30,442.06 L140.80,442.21 L141.30,442.30 L141.80,442.39 L142.30,442.38 L142.80,442.42 L143.30,442.34 L143.80,442.28 L144.30,442.27 L144.80,442.16 L145.30,442.06 L145.80,442.02 L146.30,441.94 L146.80,441.84 L147.30,441.79 L147.80,441.78 L148.30,441.78 L148.80,441.73 L149.30,441.79 L149.80,441.87 L150.30,441.89 L150.80,441.94 L151.30,441.98 L151.80,442.12 L152.30,442.19 L152.80,442.32 L153.30,442.39 L153.80,442.43 L154.30,442.48 L154.80,442.52 L155.30,442.45 L155.80,442.32 L156.30,442.23 L156.80,442.10 L157.30,442.00 L157.80,441.96 L158.30,441.93 L158.80,441.86 L159.30,441.93 L159.80,441.93 L160.30,441.99 L160.80,442.01 L161.30,442.09 L161.80,442.12 L162.30,442.31 L162.80,442.49 L163.30,442.54 L163.80,442.56 L164.30,442.53 L164.80,442.56 L165.30,442.48 L165.80,442.37 L166.30,442.22 L166.80,442.06 L167.30,441.87 L167.80,441.73 L168.30,441.55 L168.80,441.43 L169.30,441.34 L169.80,441.25 L170.30,441.14 L170.80,441.00 L171.30,440.91 L171.80,440.80 L172.30,440.78 L172.80,440.74 L173.30,440.70 L173.80,440.68 L174.30,440.68 L174.80,440.70 L175.30,440.76 L175.80,440.85 L176.30,440.95 L176.80,441.04 L177.30,441.16 L177.80,441.20 L178.30,441.24 L178.80,441.34 L179.30,441.32 L179.80,441.33 L180.30,441.35 L180.80,441.37 L181.30,441.39 L181.80,441.40 L182.30,441.41 L182.80,441.41 L183.30,441.41 L183.80,441.37 L184.30,441.34 L184.80,441.32 L185.30,441.29 L185.80,441.27 L186.30,441.25 L186.80,441.22 L187.30,441.20 L187.80,441.18 L188.30,441.16 L188.80,441.13 L189.30,441.10 L189.80,441.05 L190.30,441.01 L190.80,440.98 L191.30,440.93 L191.80,440.90 L192.30,440.87 L192.80,440.83 L193.30,440.82 L193.80,440.81 L194.30,440.78 L194.80,440.75 L195.30,440.71 L195.80,440.67 L196.30,440.61 L196.80,440.52 L197.30,440.38 L197.80,440.22 L198.30,440.02 L198.80,439.78 L199.30,439.51 L199.80,439.21 L200.30,438.84 L200.80,438.43 L201.30,437.94 L201.80,437.35 L202.30,436.64 L202.80,435.78" fill="none" stroke="#000" stroke-width="3.5" stroke-linejoin="round"/>
<path d="M262.30,436.67 L262.80,436.83 L263.30,436.98 L263.80,437.12 L264.30,437.25 L264.80,437.37 L265.30,437.49 L265.80,437.60 L266.30,437.71 L266.80,437.82 L267.30,437.92 L267.80,438.02 L268.30,438.11 L268.80,438.20 L269.30,438.29 L269.80,438.37 L270.30,438.45 L270.80,438.53 L271.30,438.59 L271.80,438.66 L272.30,438.72 L272.80,438.77 L273.30,438.83 L273.80,438.89 L274.30,438.94 L274.80,439.00 L275.30,439.04 L275.80,439.10 L276.30,439.15 L276.80,439.20 L277.30,439.25 L277.80,439.30 L278.30,439.36 L278.80,439.42 L279.30,439.48 L279.80,439.54 L280.30,439.61 L280.80,439.66 L281.30,439.71 L281.80,439.75 L282.30,439.79 L282.80,439.80 L283.30,439.84 L283.80,439.87 L284.30,439.86 L284.80,439.87 L285.30,439.88 L285.80,439.89 L286.30,439.90 L286.80,439.90 L287.30,439.89 L287.80,439.89 L288.30,439.89 L288.80,439.87 L289.30,439.86 L289.80,439.86 L290.30,439.85 L290.80,439.87 L291.30,439.89 L291.80,439.92 L292.30,439.95 L292.80,439.98 L293.30,440.01 L293.80,440.04 L294.30,440.05 L294.80,440.06 L295.30,440.07 L295.80,440.08 L296.30,440.09 L296.80,440.09 L297.30,440.10 L297.80,440.09 L298.30,440.14 L298.80,440.16 L299.30,440.19 L299.80,440.22 L300.30,440.22 L300.80,440.24 L301.30,440.25 L301.80,440.23 L302.30,440.22 L302.80,440.22 L303.30,440.17 L303.80,440.14 L304.30,440.11 L304.80,440.08 L305.30,440.07 L305.80,440.10 L306.30,440.11 L306.80,440.17 L307.30,440.19 L307.80,440.23 L308.30,440.21 L308.80,440.18 L309.30,440.17 L309.80,440.10 L310.30,440.00 L310.80,439.86 L311.30,439.75 L311.80,439.69 L312.30,439.70 L312.80,439.74 L313.30,439.82 L313.80,439.92 L314.30,440.08 L314.80,440.19 L315.30,440.27 L315.80,440.39 L316.30,440.46 L316.80,440.49 L317.30,440.49 L317.80,440.49 L318.30,440.50 L318.80,440.48 L319.30,440.39 L319.80,440.33 L320.30,440.25 L320.80,440.11 L321.30,440.05 L321.80,439.97 L322.30,439.92 L322.80,439.97 L323.30,440.08 L323.80,440.14 L324.30,440.25 L324.80,440.32 L325.30,440.49 L325.80,440.54 L326.30,440.64 L326.80,440.67 L327.30,440.76 L327.80,440.93 L328.30,440.94 L328.80,441.07 L329.30,441.25 L329.80,441.39 L330.30,441.48 L330.80,441.60 L331.30,441.56 L331.80,441.37 L332.30,441.22 L332.80,440.95 L333.30,440.78 L333.80,440.56 L334.30,440.39 L334.80,440.27 L335.30,440.10 L335.80,439.88 L336.30,439.64 L336.80,439.45 L337.30,439.22 L337.80,438.91 L338.30,438.61 L338.80,438.27 L339.30,437.90 L339.80,437.46 L340.30,437.01 L340.80,436.52 L341.30,435.90 L341.80,435.22 L342.30,434.48 L342.80,433.68 L343.30,432.81 L343.80,431.88 L344.30,430.90 L344.80,429.87 L345.30,428.79 L345.80,427.67 L346.30,426.51 L346.80,425.33 L347.30,424.13 L347.80,422.92 L348.30,421.72 L348.80,420.52 L349.30,419.34 L349.80,418.19 L350.30,417.07 L350.80,416.00 L351.30,414.99 L351.80,414.03 L352.30,413.14 L352.80,412.31 L353.30,411.56 L353.80,410.89 L354.30,410.29 L354.80,409.77 L355.30,409.33 L355.80,408.96 L356.30,408.66 L356.80,408.43 L357.30,408.25 L357.80,408.14 L358.30,408.06 L358.80,408.03 L359.30,408.02 L359.80,408.02 L360.30,408.05 L360.80,408.10 L361.30,408.20 L361.80,408.35 L362.30,408.56 L362.80,408.83 L363.30,409.17 L363.80,409.58 L364.30,410.07 L364.80,410.63 L365.30,411.28 L365.80,412.00 L366.30,412.79 L366.80,413.65 L367.30,414.58 L367.80,415.58 L368.30,416.63 L368.80,417.72 L369.30,418.86 L369.80,420.03 L370.30,421.22 L370.80,422.43 L371.30,423.63 L371.80,424.84 L372.30,426.03 L372.80,427.19 L373.30,428.33 L373.80,429.43 L374.30,430.48 L374.80,431.48 L375.30,432.43 L375.80,433.32 L376.30,434.15 L376.80,434.91 L377.30,435.62 L377.80,436.26 L378.30,436.77 L378.80,437.20 L379.30,437.62 L379.80,437.93 L380.30,438.22 L380.80,438.47 L381.30,438.65 L381.80,438.81 L382.30,438.84 L382.80,438.95 L383.30,439.04 L383.80,439.13 L384.30,439.20 L384.80,439.34 L385.30,439.44 L385.80,439.59 L386.30,439.71 L386.80,439.76 L387.30,439.90 L387.80,440.05 L388.30,440.22 L388.80,440.34 L389.30,440.51 L389.80,440.72 L390.30,440.91 L390.80,441.13 L391.30,441.35 L391.80,441.39 L392.30,441.33 L392.80,441.30 L393.30,441.25 L393.80,441.14 L394.30,441.01 L394.80,440.84 L395.30,440.69 L395.80,440.64 L396.30,440.55 L396.80,440.45 L397.30,440.40 L397.80,440.51 L398.30,440.60 L398.80,440.61 L399.30,440.63 L399.80,440.70 L400.30,440.74 L400.80,440.88 L401.30,440.97 L401.80,441.03 L402.30,441.17 L402.80,441.23 L403.30,441.30 L403.80,441.33 L404.30,441.31 L404.80,441.29 L405.30,441.20 L405.80,441.04 L406.30,440.85 L406.80,440.69 L407.30,440.54 L407.80,440.43 L408.30,440.32 L408.80,440.24 L409.30,440.14 L409.80,440.02 L410.30,439.92 L410.80,439.79 L411.30,439.75 L411.80,439.77 L412.30,439.80 L412.80,439.82 L413.30,439.85 L413.80,439.90 L414.30,439.91 L414.80,439.91 L415.30,439.87 L415.80,439.79 L416.30,439.75 L416.80,439.63 L417.30,439.56 L417.80,439.50 L418.30,439.50 L418.80,439.64 L419.30,439.83 L419.80,439.95 L420.30,440.10 L420.80,440.26 L421.30,440.37 L421.80,440.48 L422.30,440.47 L422.80,440.47 L423.30,440.50 L423.80,440.57 L424.30,440.58 L424.80,440.56 L425.30,440.56 L425.80,440.57 L426.30,440.59 L426.80,440.72 L427.30,440.80 L427.80,440.92 L428.30,441.14 L428.80,441.32 L429.30,441.46 L429.80,441.52 L430.30,441.58 L430.80,441.64 L431.30,441.60 L431.80,441.55 L432.30,441.41 L432.80,441.29 L433.30,441.13 L433.80,441.02 L434.30,440.96 L434.80,440.82 L435.30,440.76 L435.80,440.73 L436.30,440.67 L436.80,440.64 L437.30,440.65 L437.80,440.71 L438.30,440.71 L438.80,440.69 L439.30,440.59 L439.80,440.61 L440.30,440.54 L440.80,440.46 L441.30,440.32 L441.80,440.24 L442.30,440.12 L442.80,440.08 L443.30,440.08 L443.80,440.10 L444.30,440.15 L444.80,440.17 L445.30,440.29 L445.80,440.32 L446.30,440.28 L446.80,440.28 L447.30,440.21 L447.80,440.09 L448.30,439.95 L448.80,439.82 L449.30,439.63 L449.80,439.51 L450.30,439.50 L450.80,439.52 L451.30,439.57 L451.80,439.69 L452.30,439.83 L452.80,439.98 L453.30,440.15 L453.80,440.25 L454.30,440.24 L454.80,440.30 L455.30,440.30 L455.80,440.35 L456.30,440.34 L456.80,440.37 L457.30,440.48 L457.80,440.47 L458.30,440.48 L458.80,440.50 L459.30,440.50 L459.80,440.54 L460.30,440.68 L460.80,440.79 L461.30,440.83 L461.80,440.87 L462.30,440.95 L462.80,440.94 L463.30,440.91 L463.80,440.88 L464.30,440.88 L464.80,440.90 L465.30,440.91 L465.80,440.91 L466.30,440.94 L466.80,441.06 L467.30,441.18 L467.80,441.24 L468.30,441.31 L468.80,441.35 L469.30,441.35 L469.80,441.29 L470.30,441.17 L470.80,441.06 L471.30,440.90 L471.80,440.84 L472.30,440.77 L472.80,440.63 L473.30,440.61 L473.80,440.59 L474.30,440.46 L474.80,440.50 L475.30,440.49 L475.80,440.52 L476.30,440.40 L476.80,440.35 L477.30,440.26 L477.80,440.16 L478.30,440.04 L478.80,439.97 L479.30,439.81 L479.80,439.69 L480.30,439.62 L480.80,439.62 L481.30,439.67 L481.80,439.80 L482.30,439.94 L482.80,440.08 L483.30,440.20 L483.80,440.32 L484.30,440.49 L484.80,440.64 L485.30,440.75 L485.80,440.84 L486.30,441.00 L486.80,441.06 L487.30,441.16 L487.80,441.26 L488.30,441.28 L488.80,441.32 L489.30,441.25 L489.80,441.26 L490.30,441.22 L490.80,441.09 L491.30,441.06 L491.80,440.97 L492.30,440.98 L492.80,440.93 L493.30,440.92 L493.80,440.94 L494.30,440.95 L494.80,441.00 L495.30,441.02 L495.80,441.09 L496.30,441.13 L496.80,441.16 L497.30,441.07 L497.80,441.11 L498.30,441.10 L498.80,441.00 L499.30,440.97 L499.80,440.96 L500.30,440.99 L500.80,440.95 L501.30,441.05 L501.80,441.12 L502.30,441.32 L502.80,441.43 L503.30,441.58 L503.80,441.65 L504.30,441.64 L504.80,441.66 L505.30,441.62 L505.80,441.57 L506.30,441.49 L506.80,441.37 L507.30,441.25 L507.80,441.21 L508.30,441.21 L508.80,441.24 L509.30,441.33 L509.80,441.42 L510.30,441.47 L510.80,441.53 L511.30,441.54 L511.80,441.54 L512.30,441.53 L512.80,441.51 L513.30,441.39 L513.80,441.24 L514.30,441.20 L514.80,441.10 L515.30,441.05 L515.80,440.88 L516.30,440.78 L516.80,440.70 L517.30,440.56 L517.80,440.46 L518.30,440.43 L518.80,440.43 L519.30,440.46 L519.80,440.41 L520.30,440.36 L520.80,440.41 L521.30,440.49 L521.80,440.55 L522.30,440.56 L522.80,440.64 L523.30,440.72 L523.80,440.78 L524.30,440.79 L524.80,440.83 L525.30,440.87 L525.80,440.85 L526.30,440.77 L526.80,440.77 L527.30,440.76 L527.80,440.72 L528.30,440.69 L528.80,440.59 L529.30,440.49 L529.80,440.37 L530.30,440.27 L530.80,440.22 L531.30,440.10 L531.80,440.10 L532.30,440.12 L532.80,440.14 L533.30,440.20 L533.80,440.34 L534.30,440.43 L534.80,440.54 L535.30,440.63 L535.80,440.77 L536.30,440.95 L536.80,441.08 L537.30,441.19 L537.80,441.27 L538.30,441.36 L538.80,441.38 L539.30,441.49 L539.80,441.53 L540.30,441.54 L540.80,441.55 L541.30,441.54 L541.80,441.57 L542.30,441.60 L542.80,441.51 L543.30,441.50 L543.80,441.47 L544.30,441.37 L544.80,441.23 L545.30,441.11 L545.80,440.98 L546.30,440.88 L546.80,440.73 L547.30,440.52 L547.80,440.40 L548.30,440.22 L548.80,440.18 L549.30,440.09 L549.80,440.08 L550.30,440.11 L550.80,440.18 L551.30,440.34 L551.80,440.48 L552.30,440.59 L552.80,440.65 L553.30,440.59 L553.80,440.54 L554.30,440.44 L554.80,440.30 L555.30,440.20 L555.80,440.05 L556.30,439.93 L556.80,439.83 L557.30,439.73 L557.80,439.80 L558.30,439.95 L558.80,440.08 L559.30,440.17 L559.80,440.20 L560.30,440.32 L560.80,440.45 L561.30,440.50 L561.80,440.53 L562.30,440.54 L562.80,440.50 L563.30,440.37 L563.80,440.29 L564.30,440.20 L564.80,440.03 L565.30,439.95 L565.80,439.88 L566.30,439.91 L566.80,440.01 L567.30,440.07 L567.80,440.11 L568.30,440.28 L568.80,440.40 L569.30,440.53 L569.80,440.51 L570.30,440.56 L570.80,440.62 L571.30,440.65 L571.80,440.57 L572.30,440.51 L572.80,440.42 L573.30,440.40 L573.80,440.38 L574.30,440.35 L574.80,440.29 L575.30,440.33 L575.80,440.35 L576.30,440.43 L576.80,440.51 L577.30,440.64 L577.80,440.76 L578.30,440.81 L578.80,440.88 L579.30,441.00 L579.80,441.01 L580.30,441.04 L580.80,441.08 L581.30,441.09 L581.80,441.05 L582.30,440.91 L582.80,440.76 L583.30,440.66 L583.80,440.60 L584.30,440.65 L584.80,440.60 L585.30,440.67 L585.80,440.73 L586.30,440.69 L586.80,440.67 L587.30,440.65 L587.80,440.59 L588.30,440.52 L588.80,440.47 L589.30,440.38 L589.80,440.35 L590.30,440.30 L590.80,440.29 L591.30,440.34 L591.80,440.36 L592.30,440.44 L592.80,440.58 L593.30,440.65 L593.80,440.71 L594.30,440.80 L594.80,440.83 L595.30,440.90 L595.80,440.86 L596.30,440.88 L596.80,440.84 L597.30,440.76 L597.80,440.77 L598.30,440.66 L598.80,440.64 L599.30,440.56 L599.80,440.52" fill="none" stroke="#000" stroke-width="3.5" stroke-linejoin="round"/>
<rect x="7.8" y="48.4" width="592.30" height="435.20" fill="none" stroke="#000" stroke-width="2.7"/>
<line x1="7.80" y1="483.6" x2="7.80" y2="492.2" stroke="#000" stroke-width="2.6" stroke-linecap="round"/>
<line x1="126.26" y1="483.6" x2="126.26" y2="492.2" stroke="#000" stroke-width="2.6" stroke-linecap="round"/>
<line x1="244.72" y1="483.6" x2="244.72" y2="492.2" stroke="#000" stroke-width="2.6" stroke-linecap="round"/>
<line x1="363.18" y1="483.6" x2="363.18" y2="492.2" stroke="#000" stroke-width="2.6" stroke-linecap="round"/>
<line x1="481.64" y1="483.6" x2="481.64" y2="492.2" stroke="#000" stroke-width="2.6" stroke-linecap="round"/>
<line x1="600.10" y1="483.6" x2="600.10" y2="492.2" stroke="#000" stroke-width="2.6" stroke-linecap="round"/>
<line x1="67.03" y1="483.6" x2="67.03" y2="488.3" stroke="#000" stroke-width="2.6" stroke-linecap="round"/>
<line x1="185.49" y1="483.6" x2="185.49" y2="488.3" stroke="#000" stroke-width="2.6" stroke-linecap="round"/>
<line x1="303.95" y1="483.6" x2="303.95" y2="488.3" stroke="#000" stroke-width="2.6" stroke-linecap="round"/>
<line x1="422.41" y1="483.6" x2="422.41" y2="488.3" stroke="#000" stroke-width="2.6" stroke-linecap="round"/>
<line x1="540.87" y1="483.6" x2="540.87" y2="488.3" stroke="#000" stroke-width="2.6" stroke-linecap="round"/>
<defs><clipPath id="cb"><rect x="760.0" y="44.8" width="596.7" height="440.2"/></clipPath><radialGradient id="hl"><stop offset="0" stop-color="#fff" stop-opacity="1"/><stop offset="0.25" stop-color="#fff" stop-opacity="0.9"/><stop offset="0.6" stop-color="#fff" stop-opacity="0.45"/><stop offset="1" stop-color="#fff" stop-opacity="0"/></radialGradient></defs>
<rect x="760.0" y="44.8" width="596.70" height="439.00" fill="none" stroke="#000" stroke-width="2.4"/>
<line x1="751.2" y1="481.30" x2="760.0" y2="481.30" stroke="#000" stroke-width="2.3" stroke-linecap="round"/>
<line x1="751.2" y1="372.00" x2="760.0" y2="372.00" stroke="#000" stroke-width="2.3" stroke-linecap="round"/>
<line x1="751.2" y1="263.10" x2="760.0" y2="263.10" stroke="#000" stroke-width="2.3" stroke-linecap="round"/>
<line x1="751.2" y1="154.20" x2="760.0" y2="154.20" stroke="#000" stroke-width="2.3" stroke-linecap="round"/>
<line x1="751.2" y1="44.80" x2="760.0" y2="44.80" stroke="#000" stroke-width="2.3" stroke-linecap="round"/>
<line x1="755.6" y1="426.45" x2="760.0" y2="426.45" stroke="#000" stroke-width="2.3" stroke-linecap="round"/>
<line x1="755.6" y1="317.55" x2="760.0" y2="317.55" stroke="#000" stroke-width="2.3" stroke-linecap="round"/>
<line x1="755.6" y1="208.65" x2="760.0" y2="208.65" stroke="#000" stroke-width="2.3" stroke-linecap="round"/>
<line x1="755.6" y1="99.75" x2="760.0" y2="99.75" stroke="#000" stroke-width="2.3" stroke-linecap="round"/>
<line x1="761.80" y1="483.8" x2="761.80" y2="492.3" stroke="#000" stroke-width="2.4" stroke-linecap="round"/>
<line x1="945.05" y1="483.8" x2="945.05" y2="492.3" stroke="#000" stroke-width="2.4" stroke-linecap="round"/>
<line x1="1128.30" y1="483.8" x2="1128.30" y2="492.3" stroke="#000" stroke-width="2.4" stroke-linecap="round"/>
<line x1="1311.55" y1="483.8" x2="1311.55" y2="492.3" stroke="#000" stroke-width="2.4" stroke-linecap="round"/>
<line x1="853.42" y1="483.8" x2="853.42" y2="488.4" stroke="#000" stroke-width="2.4" stroke-linecap="round"/>
<line x1="1036.67" y1="483.8" x2="1036.67" y2="488.4" stroke="#000" stroke-width="2.4" stroke-linecap="round"/>
<line x1="1219.92" y1="483.8" x2="1219.92" y2="488.4" stroke="#000" stroke-width="2.4" stroke-linecap="round"/>
<g transform="translate(690.1,479.96) rotate(-90)">
<text x="0.00" y="0" font-size="33.4">Concentration (</text>
<path d="M240.80,0.00 L237.86,0.00 L237.86,-18.71 Q236.80,-17.69 235.12,-16.70 Q233.44,-15.71 231.94,-15.15 L231.94,-17.99 Q234.65,-19.26 236.58,-20.98 Q238.51,-22.70 239.26,-23.91 L240.80,-23.91 Z"/>
<text x="246.93" y="0" font-size="33.4">0</text>
<text x="265.50" y="-12.5" font-size="24.5">–6</text>
<text x="302.03" y="0" font-size="33.4">mol L</text>
<text x="383.71" y="-12.5" font-size="24.5">–</text>
<path d="M406.46,-12.50 L404.31,-12.50 L404.31,-26.22 Q403.53,-25.48 402.30,-24.75 Q401.07,-24.02 399.97,-23.61 L399.97,-25.70 Q401.95,-26.63 403.37,-27.89 Q404.79,-29.15 405.34,-30.04 L406.46,-30.04 Z"/>
<text x="410.96" y="0" font-size="33.4">)</text>
</g>
<g clip-path="url(#cb)">
<polyline points="761.80,480.90 871.75,411.42 981.70,339.49 1091.65,290.00 1201.60,239.20 1311.55,187.52" fill="none" stroke="#000" stroke-width="3.6" stroke-linejoin="round"/>
<circle cx="761.80" cy="480.90" r="9.45" fill="#000"/><circle cx="759.35" cy="478.60" r="4.2" fill="url(#hl)"/>
<circle cx="871.75" cy="411.42" r="9.45" fill="#000"/><circle cx="869.30" cy="409.12" r="4.2" fill="url(#hl)"/>
<circle cx="981.70" cy="339.49" r="9.45" fill="#000"/><circle cx="979.25" cy="337.19" r="4.2" fill="url(#hl)"/>
<circle cx="1091.65" cy="290.00" r="9.45" fill="#000"/><circle cx="1089.20" cy="287.70" r="4.2" fill="url(#hl)"/>
<circle cx="1201.60" cy="239.20" r="9.45" fill="#000"/><circle cx="1199.15" cy="236.90" r="4.2" fill="url(#hl)"/>
<circle cx="1311.55" cy="187.52" r="9.45" fill="#000"/><circle cx="1309.10" cy="185.22" r="4.2" fill="url(#hl)"/>
<polyline points="761.80,480.90 871.75,479.48 981.70,479.38 1091.65,479.21 1201.60,478.89 1311.55,478.50" fill="none" stroke="#ff0000" stroke-width="3.8" stroke-linejoin="round"/>
<circle cx="761.80" cy="480.90" r="9.5" fill="#ff0000"/><circle cx="759.35" cy="478.60" r="4.2" fill="url(#hl)"/>
<circle cx="871.75" cy="479.48" r="9.5" fill="#ff0000"/><circle cx="869.30" cy="477.18" r="4.2" fill="url(#hl)"/>
<circle cx="981.70" cy="479.38" r="9.5" fill="#ff0000"/><circle cx="979.25" cy="477.08" r="4.2" fill="url(#hl)"/>
<circle cx="1091.65" cy="479.21" r="9.5" fill="#ff0000"/><circle cx="1089.20" cy="476.91" r="4.2" fill="url(#hl)"/>
<circle cx="1201.60" cy="478.89" r="9.5" fill="#ff0000"/><circle cx="1199.15" cy="476.59" r="4.2" fill="url(#hl)"/>
<circle cx="1311.55" cy="478.50" r="9.5" fill="#ff0000"/><circle cx="1309.10" cy="476.20" r="4.2" fill="url(#hl)"/>
</g>
<line x1="778" y1="85.2" x2="857.1" y2="85.2" stroke="#000" stroke-width="3.6" stroke-linecap="round"/>
<circle cx="817.65" cy="85.10" r="9.45" fill="#000"/><circle cx="815.20" cy="82.80" r="4.2" fill="url(#hl)"/>
<line x1="778" y1="128.75" x2="857.1" y2="128.75" stroke="#ff0000" stroke-width="3.7" stroke-linecap="round"/>
<circle cx="817.70" cy="128.60" r="9.2" fill="#ff0000"/><circle cx="815.25" cy="126.30" r="4.2" fill="url(#hl)"/>
<path transform="translate(8.02,30.61) scale(0.020508,-0.020508)" d="M393 -20Q236 -20 148.0 65.5Q60 151 60 306Q60 474 169.5 562.0Q279 650 487 652L720 656V711Q720 817 683.0 868.5Q646 920 562 920Q484 920 447.5 884.5Q411 849 402 767L109 781Q136 939 253.5 1020.5Q371 1102 574 1102Q779 1102 890.0 1001.0Q1001 900 1001 714V75L1060 0H768L752 193Q631 -20 393 -20ZM720 501 576 499Q478 495 437.0 477.5Q396 460 374.5 424.0Q353 388 353 328Q353 251 388.5 213.5Q424 176 483 176Q549 176 603.5 212.0Q658 248 689.0 311.5Q720 375 720 446Z"/>
<text x="657.76" y="30.51" font-size="42" font-weight="bold">b</text>
<path transform="translate(238.46,112.93) scale(0.016357,-0.016930)" d="M1372 0L1168 0L1030 585L359 585L359 0L168 0L168 1409L831 1409Q1069 1409 1198.5 1302.5Q1328 1196 1328 1006Q1328 820 1185 690L1372 0ZM1136 1004Q1136 1127 1052.5 1191.5Q969 1256 812 1256L359 1256L359 736L820 736Q971 736 1053.5 806.5Q1136 877 1136 1004Z" fill="#ff0000"/>
<text x="378.42" y="389.66" font-size="33.5" fill="#0000ff">S</text>
<text x="327.04" y="240.07" font-size="33.5">ee = 74%</text>
<text x="1078.81" y="382.70" font-size="33.5">Selectivity = 94</text>
<text x="215.87" y="575.80" font-size="33.5">Time (min)</text>
<text x="958.24" y="575.80" font-size="33.5">Time (min)</text>
<text x="868.10" y="96.60" font-size="33.5">BSA (isoelectric point = 4.7)</text>
<text x="867.35" y="139.10" font-size="33.5">BHb (isoelectric point = 7)</text>
<text x="8.26" y="530.76" font-size="33.5" text-anchor="middle" transform="matrix(1,0,0,1.04,0,-21.230)">5</text>
<text x="126.56" y="530.19" font-size="33.5" text-anchor="middle" transform="matrix(1,0,0,1.04,0,-21.208)">6</text>
<text x="242.39" y="530.20" font-size="33.5" text-anchor="middle" transform="matrix(1,0,0,1.04,0,-21.208)">7</text>
<text x="363.81" y="530.22" font-size="33.5" text-anchor="middle" transform="matrix(1,0,0,1.04,0,-21.209)">8</text>
<text x="480.09" y="530.73" font-size="33.5" text-anchor="middle" transform="matrix(1,0,0,1.04,0,-21.229)">9</text>
<path d="M594.65,530.46 L591.70,530.46 L591.70,511.70 Q590.64,512.71 588.95,513.71 Q587.27,514.71 585.76,515.26 L585.76,512.42 Q588.48,511.14 590.42,509.42 Q592.36,507.69 593.11,506.48 L594.65,506.48 Z"/>
<text x="600.80" y="530.46" font-size="33.5" transform="matrix(1,0,0,1.04,0,-21.218)">0</text>
<text x="762.13" y="530.80" font-size="33.5" text-anchor="middle" transform="matrix(1,0,0,1.04,0,-21.232)">0</text>
<path d="M930.86,530.86 L927.92,530.86 L927.92,512.10 Q926.85,513.11 925.17,514.11 Q923.48,515.11 921.98,515.66 L921.98,512.82 Q924.69,511.54 926.63,509.82 Q928.57,508.09 929.32,506.88 L930.86,506.88 Z"/>
<text x="937.01" y="530.86" font-size="33.5" transform="matrix(1,0,0,1.04,0,-21.234)">0</text>
<text x="955.64" y="530.86" font-size="33.5" transform="matrix(1,0,0,1.04,0,-21.234)">0</text>
<text x="1128.22" y="530.01" font-size="33.5" text-anchor="middle" transform="matrix(1,0,0,1.04,0,-21.200)">200</text>
<text x="1311.53" y="530.01" font-size="33.5" text-anchor="middle" transform="matrix(1,0,0,1.04,0,-21.200)">300</text>
<text x="738.60" y="54.19" font-size="33.5" text-anchor="end" transform="matrix(1,0,0,1.04,0,-2.168)">8</text>
<text x="737.46" y="163.00" font-size="33.5" text-anchor="end" transform="matrix(1,0,0,1.04,0,-6.520)">6</text>
<text x="736.43" y="272.80" font-size="33.5" text-anchor="end" transform="matrix(1,0,0,1.04,0,-10.912)">4</text>
<text x="736.28" y="382.44" font-size="33.5" text-anchor="end" transform="matrix(1,0,0,1.04,0,-15.297)">2</text>
<text x="738.89" y="488.00" font-size="33.5" text-anchor="end" transform="matrix(1,0,0,1.04,0,-19.520)">0</text></svg>
</body></html>
